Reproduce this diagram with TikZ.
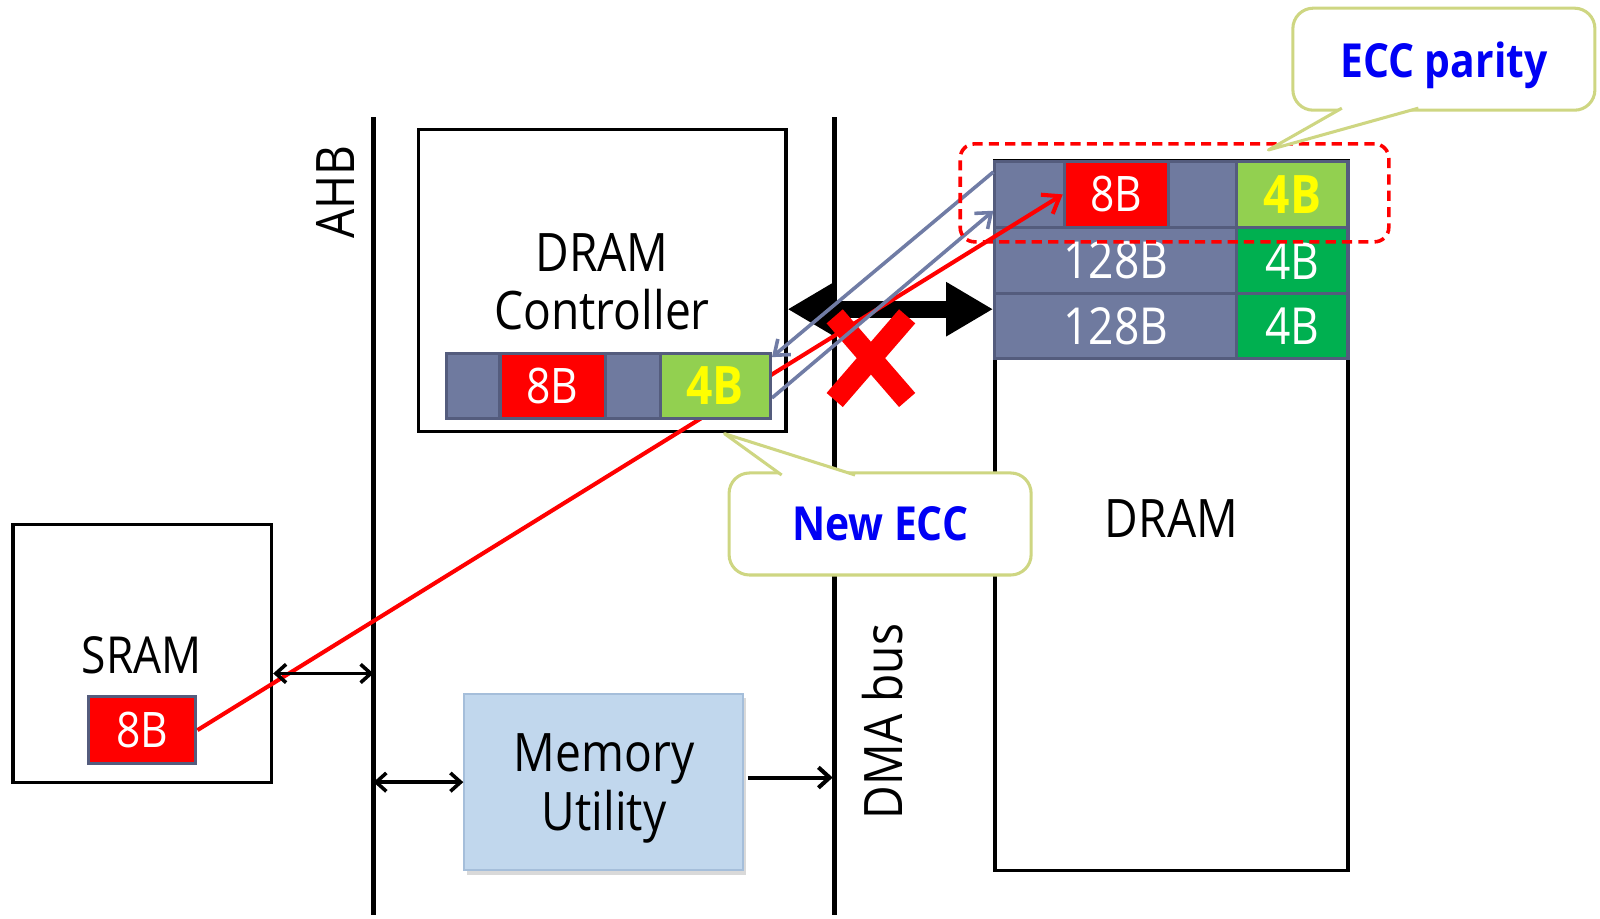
\documentclass[tikz,border=0pt]{standalone}
\usepackage{fontspec}
\setmainfont{Open Sans}[FakeStretch=0.87]
\usetikzlibrary{arrows.meta,shadows}
\definecolor{cellgray}{RGB}{111,122,159}
\definecolor{cellborder}{RGB}{84,92,125}
\definecolor{lgreen}{RGB}{146,208,80}
\definecolor{dgreen}{RGB}{0,176,80}
\definecolor{yel}{RGB}{255,255,0}
\definecolor{slateblue2}{RGB}{112,124,165}
\definecolor{calloutc}{RGB}{206,214,130}
\definecolor{eccblue}{RGB}{0,0,245}
\definecolor{mufill}{RGB}{193,215,237}
\definecolor{muborder}{RGB}{165,190,218}
\pgfdeclarelayer{front}
\pgfsetlayers{main,front}
\begin{document}
\begin{tikzpicture}[x=1pt,y=-1pt,
  bus/.style={line width=4.5pt, draw=black},
  box/.style={draw=black, line width=3.5pt, fill=white, inner sep=0pt},
  mubox/.style={draw=muborder, line width=2pt, fill=mufill, inner sep=0pt,
     drop shadow={shadow xshift=3pt, shadow yshift=-4pt, opacity=.3}},
  lbl/.style={inner sep=0pt, font=\fontsize{52}{57}\selectfont, align=center},
  cell/.style={draw=cellborder, line width=3pt, inner sep=0pt, minimum height=65pt,
     text=white, font=\fontsize{48}{50}\selectfont},
  ycell/.style={cell, fill=lgreen, text=yel, font=\bfseries\fontsize{52}{54}\selectfont},
  dbl/.style={line width=3.5pt, {Straight Barb[length=10pt,width=18pt]}-{Straight Barb[length=10pt,width=18pt]}},
  sgl/.style={line width=4pt, -{Straight Barb[length=11pt,width=20pt]}},
  slateline/.style={draw=slateblue2, line width=3.5pt, -{Straight Barb[length=13pt,width=20pt]}},
  redline/.style={draw=red, line width=4pt, -{Straight Barb[length=15pt,width=22pt]}},
  callout/.style={draw=calloutc, line width=3pt, rounded corners=20pt, fill=white,
     minimum width=296pt, minimum height=100pt, inner sep=0pt, text=eccblue,
     font=\bfseries\fontsize{46}{50}\selectfont, text depth=0pt},
  calloutline/.style={draw=calloutc, line width=3pt, line join=round}
]
\useasboundingbox (0,0) rectangle (1568,900);

% buses
\coordinate (ahbT) at (366,115);
\coordinate (ahbB) at (366,897);
\coordinate (dmaT) at (818,115);
\coordinate (dmaB) at (818,897);
\draw[bus] (ahbT) -- (ahbB);
\draw[bus] (dmaT) -- (dmaB);
\node[lbl, rotate=90] (ahb) at (328.5,188.5) {AHB};
\node[lbl, rotate=90] (dma) at (865,707) {DMA bus};

% DRAM controller
\node[box, minimum width=360pt, minimum height=296pt] (ctrl) at (590,275) {};
\node[lbl] (ctrllbl) at (590,276.5) {DRAM\\Controller};
\begin{pgfonlayer}{front}
\node[cell, fill=cellgray, minimum width=52pt, minimum height=64pt] (cga) at (464,378) {};
\node[cell, fill=red, minimum width=103pt, minimum height=64pt] (cr) at (541.5,378) {8B};
\node[cell, fill=cellgray, minimum width=54pt, minimum height=64pt] (cgb) at (620,378) {};
\node[ycell, minimum width=108pt, minimum height=64pt] (clg) at (701,378) {4B};
\end{pgfonlayer}

% SRAM
\node[box, minimum width=253pt, minimum height=253pt] (sram) at (139.5,640.5) {};
\node[lbl, font=\fontsize{50}{55}\selectfont] (sramlbl) at (139,642.5) {SRAM};
\node[cell, fill=red, minimum width=105pt] (s8) at (139.5,715.5) {8B};

% Memory utility
\node[mubox, minimum width=273pt, minimum height=173pt] (mu) at (591.5,766.5) {};
\node[lbl, font=\fontsize{52}{58}\selectfont] (mulbl) at (592,773) {Memory\\Utility};

% DRAM
\node[box, minimum width=346pt, minimum height=695pt] (dram) at (1148,505.5) {};
\node[lbl] (dramlbl) at (1148,508.5) {DRAM};
\node[cell, fill=cellgray, minimum width=68pt] (d1a) at (1009,190.5) {};
\node[cell, fill=red, minimum width=102pt] (d1b) at (1094,190.5) {8B};
\node[cell, fill=cellgray, minimum width=67pt] (d1c) at (1178.5,190.5) {};
\node[ycell, minimum width=109pt] (d1d) at (1266.5,190.5) {4B};
\node[cell, fill=cellgray, minimum width=237pt, font=\fontsize{50}{52}\selectfont] (d2a) at (1093.5,255.5) {128B};
\node[cell, fill=dgreen, minimum width=109pt, font=\fontsize{50}{52}\selectfont] (d2b) at (1266.5,255.5) {4B};
\node[cell, fill=cellgray, minimum width=237pt, minimum height=64pt, font=\fontsize{50}{52}\selectfont] (d3a) at (1093.5,319.5) {128B};
\node[cell, fill=dgreen, minimum width=109pt, minimum height=64pt, font=\fontsize{50}{52}\selectfont] (d3b) at (1266.5,319.5) {4B};

% big double arrow between controller and DRAM
\draw[line width=17pt, {Triangle[length=46pt,width=50pt]}-{Triangle[length=46pt,width=50pt]}]
  ([yshift=-28pt]ctrl.east) -- ([yshift=202.5pt]dram.west);

% red X
\draw[red, line width=21pt] (818,310) -- (889,392) (889,310) -- (818,392);

% data paths
\draw[redline] (s8.east) -- (d1b.west);
\draw[slateline] ([yshift=22pt]d1a.west) -- ([yshift=28pt]clg.east);
\draw[slateline] ([yshift=-12pt]clg.east) -- ([yshift=-16pt]d1a.west);

% ECC zone
\node[draw=red, dash pattern=on 10pt off 6pt, line width=3.5pt, rounded corners=14pt,
      minimum width=420pt, minimum height=96pt, inner sep=0pt] (zone) at (1151,189) {};

% callouts
\node[callout] (ecc) at (1415,58) {ECC parity};
\draw[calloutline, fill=white] (1315,106) -- (1243,147) -- (1390,106);
\node[callout] (newecc) at (862.5,513.5) {New ECC};
\draw[calloutline, fill=white] (766,465.5) -- (710,425) -- (838,465.5);

% small arrows
\path ([yshift=-19.5pt]sram.east) coordinate (s1);
\draw[dbl] (s1) -- (s1 -| ahbT);
\draw[dbl] (mu.west -| ahbT) -- (mu.west);
\path ([xshift=4pt,yshift=4.5pt]mu.east) coordinate (m1);
\draw[sgl, shorten >=2pt] (m1) -- (m1 -| dmaT);
\end{tikzpicture}
\end{document}
